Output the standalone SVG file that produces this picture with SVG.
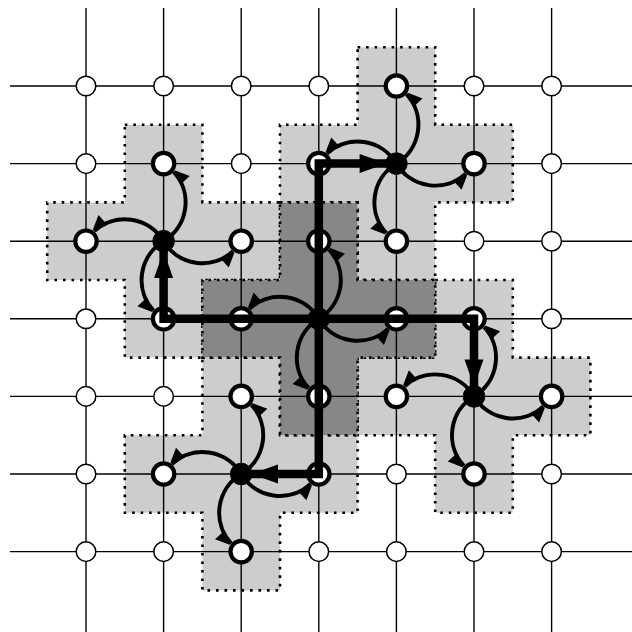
<svg xmlns="http://www.w3.org/2000/svg" width="632" height="632" viewBox="0 0 632 632">
<style>
.light{fill:#cdcdcd;stroke:#000;stroke-width:2.6;stroke-dasharray:2.6 5.9}
.dark{fill:#878787;stroke:#000;stroke-width:2.6;stroke-dasharray:2.6 5.9}
.grid line{stroke:#000;stroke-width:1.4}
.n{fill:#fff;stroke:#000;stroke-width:1.5}
.t{fill:#fff;stroke:#000;stroke-width:4.2}
.b{fill:#000;stroke:#000;stroke-width:1}
.thick{fill:none;stroke:#000;stroke-width:8.5;stroke-linejoin:miter}
.tip{fill:#000}
.cv{fill:none;stroke:#000;stroke-width:4;marker-end:url(#ah)}
</style>
<defs>
<marker id="ah" markerUnits="userSpaceOnUse" markerWidth="16" markerHeight="16" refX="15" refY="4" orient="auto" overflow="visible">
<path d="M15,6 L1,1.5 L1,13 Z" fill="#000"/>
</marker>
</defs>
<g id="regions">
<polygon class="light" points="124.8,124.8 202.4,124.8 202.4,202.4 280,202.4 280,280 202.4,280 202.4,357.6 124.8,357.6 124.8,280 47.2,280 47.2,202.4 124.8,202.4"/>
<polygon class="light" points="357.6,47.2 435.2,47.2 435.2,124.8 512.8,124.8 512.8,202.4 435.2,202.4 435.2,280 357.6,280 357.6,202.4 280,202.4 280,124.8 357.6,124.8"/>
<polygon class="light" points="435.2,280 512.8,280 512.8,357.6 590.4,357.6 590.4,435.2 512.8,435.2 512.8,512.8 435.2,512.8 435.2,435.2 357.6,435.2 357.6,357.6 435.2,357.6"/>
<polygon class="light" points="202.4,357.6 280,357.6 280,435.2 357.6,435.2 357.6,512.8 280,512.8 280,590.4 202.4,590.4 202.4,512.8 124.8,512.8 124.8,435.2 202.4,435.2"/>
<polygon class="dark" points="280,202.4 357.6,202.4 357.6,280 435.2,280 435.2,357.6 357.6,357.6 357.6,435.2 280,435.2 280,357.6 202.4,357.6 202.4,280 280,280"/>
</g>
<g class="grid" id="grid">
<line x1="86" y1="8" x2="86" y2="632"/>
<line x1="163.6" y1="8" x2="163.6" y2="632"/>
<line x1="241.2" y1="8" x2="241.2" y2="632"/>
<line x1="318.8" y1="8" x2="318.8" y2="632"/>
<line x1="396.4" y1="8" x2="396.4" y2="632"/>
<line x1="474" y1="8" x2="474" y2="632"/>
<line x1="551.6" y1="8" x2="551.6" y2="632"/>
<line x1="10" y1="86" x2="632" y2="86"/>
<line x1="10" y1="163.6" x2="632" y2="163.6"/>
<line x1="10" y1="241.2" x2="632" y2="241.2"/>
<line x1="10" y1="318.8" x2="632" y2="318.8"/>
<line x1="10" y1="396.4" x2="632" y2="396.4"/>
<line x1="10" y1="474" x2="632" y2="474"/>
<line x1="10" y1="551.6" x2="632" y2="551.6"/>
</g>
<g id="nodes">
<g id="n0-0"><circle class="n" cx="86" cy="86" r="9.8"/></g>
<g id="n1-0"><circle class="n" cx="163.6" cy="86" r="9.8"/></g>
<g id="n2-0"><circle class="n" cx="241.2" cy="86" r="9.8"/></g>
<g id="n3-0"><circle class="n" cx="318.8" cy="86" r="9.8"/></g>
<g id="n4-0"><circle class="t" cx="396.4" cy="86" r="10.7"/></g>
<g id="n5-0"><circle class="n" cx="474" cy="86" r="9.8"/></g>
<g id="n6-0"><circle class="n" cx="551.6" cy="86" r="9.8"/></g>
<g id="n0-1"><circle class="n" cx="86" cy="163.6" r="9.8"/></g>
<g id="n1-1"><circle class="t" cx="163.6" cy="163.6" r="10.7"/></g>
<g id="n2-1"><circle class="n" cx="241.2" cy="163.6" r="9.8"/></g>
<g id="n3-1"><circle class="t" cx="318.8" cy="163.6" r="10.7"/></g>
<g id="n4-1"><circle class="b" cx="396.4" cy="163.6" r="10.8"/></g>
<g id="n5-1"><circle class="t" cx="474" cy="163.6" r="10.7"/></g>
<g id="n6-1"><circle class="n" cx="551.6" cy="163.6" r="9.8"/></g>
<g id="n0-2"><circle class="t" cx="86" cy="241.2" r="10.7"/></g>
<g id="n1-2"><circle class="b" cx="163.6" cy="241.2" r="10.8"/></g>
<g id="n2-2"><circle class="t" cx="241.2" cy="241.2" r="10.7"/></g>
<g id="n3-2"><circle class="t" cx="318.8" cy="241.2" r="10.7"/></g>
<g id="n4-2"><circle class="t" cx="396.4" cy="241.2" r="10.7"/></g>
<g id="n5-2"><circle class="n" cx="474" cy="241.2" r="9.8"/></g>
<g id="n6-2"><circle class="n" cx="551.6" cy="241.2" r="9.8"/></g>
<g id="n0-3"><circle class="n" cx="86" cy="318.8" r="9.8"/></g>
<g id="n1-3"><circle class="t" cx="163.6" cy="318.8" r="10.7"/></g>
<g id="n2-3"><circle class="t" cx="241.2" cy="318.8" r="10.7"/></g>
<g id="n3-3"><circle class="b" cx="318.8" cy="318.8" r="10.8"/></g>
<g id="n4-3"><circle class="t" cx="396.4" cy="318.8" r="10.7"/></g>
<g id="n5-3"><circle class="t" cx="474" cy="318.8" r="10.7"/></g>
<g id="n6-3"><circle class="n" cx="551.6" cy="318.8" r="9.8"/></g>
<g id="n0-4"><circle class="n" cx="86" cy="396.4" r="9.8"/></g>
<g id="n1-4"><circle class="n" cx="163.6" cy="396.4" r="9.8"/></g>
<g id="n2-4"><circle class="t" cx="241.2" cy="396.4" r="10.7"/></g>
<g id="n3-4"><circle class="t" cx="318.8" cy="396.4" r="10.7"/></g>
<g id="n4-4"><circle class="t" cx="396.4" cy="396.4" r="10.7"/></g>
<g id="n5-4"><circle class="b" cx="474" cy="396.4" r="10.8"/></g>
<g id="n6-4"><circle class="t" cx="551.6" cy="396.4" r="10.7"/></g>
<g id="n0-5"><circle class="n" cx="86" cy="474" r="9.8"/></g>
<g id="n1-5"><circle class="t" cx="163.6" cy="474" r="10.7"/></g>
<g id="n2-5"><circle class="b" cx="241.2" cy="474" r="10.8"/></g>
<g id="n3-5"><circle class="t" cx="318.8" cy="474" r="10.7"/></g>
<g id="n4-5"><circle class="n" cx="396.4" cy="474" r="9.8"/></g>
<g id="n5-5"><circle class="t" cx="474" cy="474" r="10.7"/></g>
<g id="n6-5"><circle class="n" cx="551.6" cy="474" r="9.8"/></g>
<g id="n0-6"><circle class="n" cx="86" cy="551.6" r="9.8"/></g>
<g id="n1-6"><circle class="n" cx="163.6" cy="551.6" r="9.8"/></g>
<g id="n2-6"><circle class="t" cx="241.2" cy="551.6" r="10.7"/></g>
<g id="n3-6"><circle class="n" cx="318.8" cy="551.6" r="9.8"/></g>
<g id="n4-6"><circle class="n" cx="396.4" cy="551.6" r="9.8"/></g>
<g id="n5-6"><circle class="n" cx="474" cy="551.6" r="9.8"/></g>
<g id="n6-6"><circle class="n" cx="551.6" cy="551.6" r="9.8"/></g>
</g>
<g id="connectors">
<path class="thick" d="M318.8,318.8 H163.6 V241.2"/>
<path class="thick" d="M318.8,318.8 V163.6 H396.4"/>
<path class="thick" d="M318.8,318.8 H474 V396.4"/>
<path class="thick" d="M318.8,318.8 V474 H241.2"/>
<polygon class="tip" points="163.6,251 154.1,278 173.1,278"/>
<polygon class="tip" points="386.6,163.6 359.6,154.1 359.6,173.1"/>
<polygon class="tip" points="474,386.6 464.5,359.6 483.5,359.6"/>
<polygon class="tip" points="251,474 278,464.5 278,483.5"/>
<path class="cv" d="M163.6,241.2 A45.21,45.21 0 0 0 173.68,171.81"/>
<path class="cv" d="M163.6,241.2 A45.21,45.21 0 0 0 232.99,251.28"/>
<path class="cv" d="M163.6,241.2 A45.21,45.21 0 0 0 153.52,310.59"/>
<path class="cv" d="M163.6,241.2 A45.21,45.21 0 0 0 94.21,231.12"/>
<path class="cv" d="M396.4,163.6 A45.21,45.21 0 0 0 406.48,94.21"/>
<path class="cv" d="M396.4,163.6 A45.21,45.21 0 0 0 465.79,173.68"/>
<path class="cv" d="M396.4,163.6 A45.21,45.21 0 0 0 386.32,232.99"/>
<path class="cv" d="M396.4,163.6 A45.21,45.21 0 0 0 327.01,153.52"/>
<path class="cv" d="M474,396.4 A45.21,45.21 0 0 0 484.08,327.01"/>
<path class="cv" d="M474,396.4 A45.21,45.21 0 0 0 543.39,406.48"/>
<path class="cv" d="M474,396.4 A45.21,45.21 0 0 0 463.92,465.79"/>
<path class="cv" d="M474,396.4 A45.21,45.21 0 0 0 404.61,386.32"/>
<path class="cv" d="M241.2,474 A45.21,45.21 0 0 0 251.28,404.61"/>
<path class="cv" d="M241.2,474 A45.21,45.21 0 0 0 310.59,484.08"/>
<path class="cv" d="M241.2,474 A45.21,45.21 0 0 0 231.12,543.39"/>
<path class="cv" d="M241.2,474 A45.21,45.21 0 0 0 171.81,463.92"/>
<path class="cv" d="M318.8,318.8 A45.21,45.21 0 0 0 328.88,249.41"/>
<path class="cv" d="M318.8,318.8 A45.21,45.21 0 0 0 388.19,328.88"/>
<path class="cv" d="M318.8,318.8 A45.21,45.21 0 0 0 308.72,388.19"/>
<path class="cv" d="M318.8,318.8 A45.21,45.21 0 0 0 249.41,308.72"/>
</g>
</svg>
